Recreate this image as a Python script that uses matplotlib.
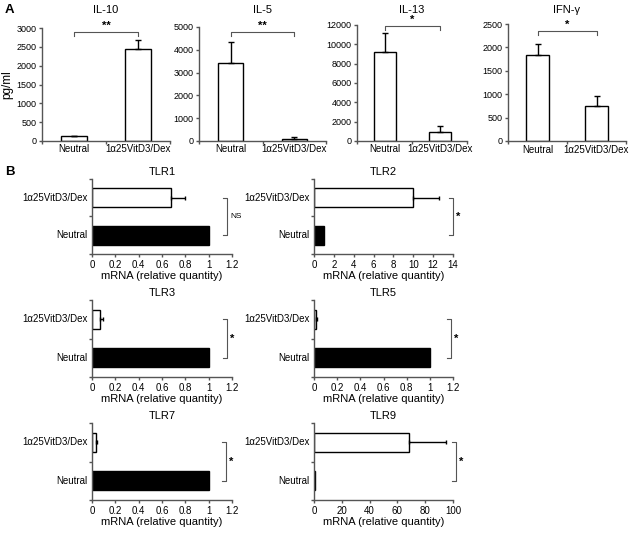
import numpy as np
import matplotlib
matplotlib.use("Agg")
import matplotlib.pyplot as plt
import matplotlib.transforms as mtransforms

plt.rcParams["font.family"] = ["Liberation Sans", "DejaVu Sans"]

W, H = 638, 548
GRAY = "#555555"

# ---- data: panel A (cytokines, pg/ml) ----
groups = ["Neutral", "1\u03b125VitD3/Dex"]
cyto_names = ["IL-10", "IL-5", "IL-13", "IFN-\u03b3"]
cyto_means = [[120, 2450], [3420, 90], [9200, 900], [1840, 740]]
cyto_errs = [[25, 230], [920, 70], [2000, 700], [230, 220]]
cyto_ymax = [3000, 5000, 12000, 2500]
cyto_ystep = [500, 1000, 2000, 500]
cyto_sig = ["**", "**", "*", "*"]
cyto_sig_y = [2900, 4800, 11900, 2350]

# ---- data: panel B (TLR mRNA, relative quantity) ----
tlr_names = ["TLR1", "TLR2", "TLR3", "TLR5", "TLR7", "TLR9"]
tlr_neutral = [1.0, 1.0, 1.0, 1.0, 1.0, 1.0]
tlr_dex = [0.68, 10.0, 0.07, 0.02, 0.03, 68.0]
tlr_dex_err = [0.12, 2.6, 0.02, 0.01, 0.01, 27.0]
tlr_xmax = [1.2, 14, 1.2, 1.2, 1.2, 100]
tlr_xstep = [0.2, 2, 0.2, 0.2, 0.2, 20]
tlr_sig = ["NS", "*", "*", "*", "*", "*"]


def px_axes(fig, x0, y0, x1, y1):
    return fig.add_axes([x0 / W, 1 - y1 / H, (x1 - x0) / W, (y1 - y0) / H])


def style(ax):
    for s in ["top", "right"]:
        ax.spines[s].set_visible(False)
    for s in ["left", "bottom"]:
        ax.spines[s].set_color(GRAY)
        ax.spines[s].set_linewidth(1.0)
    ax.tick_params(colors=GRAY, labelcolor="black", labelsize=7, length=2.5, width=1.0, pad=1.5)


fig = plt.figure(figsize=(W / 100, H / 100), dpi=100)

# panel A
boxes_a = [(42, 28, 170, 141), (199, 27, 326, 141), (357, 25, 467, 141), (508, 24, 626, 141)]
for i, box in enumerate(boxes_a):
    ax = px_axes(fig, *box)
    style(ax)
    ax.tick_params(axis="y", labelsize=6.5)
    x = np.arange(2)
    ax.bar(x, cyto_means[i], width=0.4, color="white", edgecolor="black", linewidth=1.0, zorder=2)
    ax.errorbar(x, cyto_means[i], yerr=[[0, 0], cyto_errs[i]], fmt="none", ecolor="black",
                elinewidth=1.0, capsize=2, capthick=1.0, zorder=3)
    ax.set_xlim(-0.5, 1.5)
    ax.set_ylim(0, cyto_ymax[i])
    ax.set_yticks(np.arange(0, cyto_ymax[i] + 1, cyto_ystep[i]))
    ax.set_xticks([-0.5, 0.5, 1.5])
    ax.set_xticklabels([])
    for xi, g in zip(x, groups):
        ax.text(xi, -0.03, g, transform=ax.get_xaxis_transform(), ha="center", va="top", fontsize=7)
    # titles all sit on one line at the top of the figure
    ttrans = mtransforms.blended_transform_factory(ax.transAxes, fig.transFigure)
    ax.text(0.5, 1 - 10 / H, cyto_names[i], transform=ttrans, ha="center", va="center", fontsize=8)
    # significance bracket
    ys = cyto_sig_y[i]
    d = cyto_ymax[i] * 0.035
    ax.plot([0, 0, 1, 1], [ys - d, ys, ys, ys - d], color=GRAY, lw=0.8, clip_on=False)
    ax.text(0.5, ys + d * 0.3, cyto_sig[i], ha="center", va="bottom", fontsize=8, fontweight="bold")
    if i == 0:
        ax.set_ylabel("pg/ml", fontsize=8.5)
        ax.yaxis.set_label_coords(-29 / 128, 0.5)

# panel B
boxes_b = [(92, 179, 232, 254), (314, 179, 453, 254),
           (92, 300, 232, 377), (314, 300, 453, 377),
           (92, 423, 232, 500), (314, 423, 453, 500)]
bracket_x = [0.965, 1.0, 0.965, 0.985, 0.96, 1.02]
for i, box in enumerate(boxes_b):
    ax = px_axes(fig, *box)
    style(ax)
    ax.barh(0, tlr_neutral[i], height=0.5, color="black", edgecolor="black", linewidth=1.0, zorder=2)
    ax.barh(1, tlr_dex[i], height=0.5, color="white", edgecolor="black", linewidth=1.0, zorder=2)
    ax.errorbar([tlr_dex[i]], [1], xerr=[[0], [tlr_dex_err[i]]], fmt="none", ecolor="black",
                elinewidth=1.0, capsize=1.5, capthick=1.0, zorder=3)
    ax.set_ylim(-0.5, 1.5)
    ax.set_xlim(0, tlr_xmax[i])
    ticks = np.arange(0, tlr_xmax[i] + tlr_xstep[i] / 2, tlr_xstep[i])
    ax.set_xticks(ticks)
    ax.set_xticklabels([f"{t:g}" for t in ticks])
    ax.set_yticks([-0.5, 0.5, 1.5])
    ax.set_yticklabels([])
    for yi, g in zip([0, 1], groups):
        ax.text(-0.03, yi, g, transform=ax.get_yaxis_transform(), ha="right", va="center", fontsize=7)
    ax.set_xlabel("mRNA (relative quantity)", fontsize=8, labelpad=1)
    ax.set_title(tlr_names[i], fontsize=8, pad=3)
    trans = mtransforms.blended_transform_factory(ax.transAxes, ax.transData)
    bx = bracket_x[i]
    ax.plot([bx - 0.03, bx, bx, bx - 0.03], [1, 1, 0, 0], color=GRAY, lw=0.8,
            transform=trans, clip_on=False)
    if tlr_sig[i] == "NS":
        ax.text(bx + 0.02, 0.5, "NS", transform=trans, ha="left", va="center", fontsize=6)
    else:
        ax.text(bx + 0.02, 0.5, "*", transform=trans, ha="left", va="center", fontsize=8, fontweight="bold")

fig.text(5 / W, 1 - 10 / H, "A", fontsize=9.5, fontweight="bold", ha="left", va="center")
fig.text(5 / W, 1 - 172 / H, "B", fontsize=9.5, fontweight="bold", ha="left", va="center")

fig.savefig("out.png", dpi=100)
